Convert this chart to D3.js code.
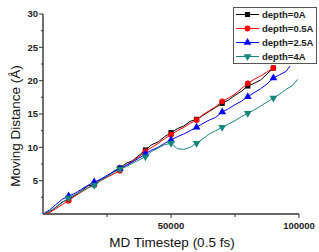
<!DOCTYPE html>
<html>
<head>
<meta charset="utf-8">
<script src="https://cdn.jsdelivr.net/npm/d3@7"></script>
<style>
  html, body { margin: 0; padding: 0; background: #fff; }
  svg { display: block; font-family: Arial, "Liberation Sans", sans-serif; }
</style>
</head>
<body>
<div id="chart"></div>
<script>
// MD timestep samples (every 2500 steps) and moving distance per depth
const steps0 = [0, 2500, 5000, 7500, 10000, 12500, 15000, 17500, 20000, 22500, 25000, 27500, 30000, 32500, 35000, 37500, 40000, 42500, 45000, 47500, 50000, 52500, 55000, 57500, 60000, 62500, 65000, 67500, 70000, 72500, 75000, 77500, 80000, 82500, 85000, 87500, 90000];
const depth0 = [0, 0.3, 1.0, 1.8, 2.2, 2.8, 3.5, 4.2, 4.4, 5.2, 5.6, 6.4, 6.9, 7.6, 8.0, 8.8, 9.6, 10.4, 10.8, 11.6, 12.2, 12.8, 13.2, 13.9, 14.2, 14.8, 15.4, 16.0, 16.6, 17.1, 17.8, 18.4, 19.2, 19.6, 20.1, 21.0, 21.9];
const depth05 = [0, 0.2, 0.8, 1.4, 2.0, 2.7, 3.3, 3.9, 4.4, 5.0, 5.5, 6.0, 6.5, 7.3, 7.9, 8.6, 9.4, 10.0, 10.6, 11.3, 11.9, 12.5, 13.0, 13.6, 14.1, 14.9, 15.5, 16.1, 16.9, 17.4, 18.0, 18.8, 19.6, 20.2, 20.7, 21.3, 21.9];
const steps25 = steps0.concat([92500, 95000, 96500]);
const depth25 = [0, 0.6, 1.4, 2.2, 2.7, 3.1, 3.7, 4.3, 4.8, 5.2, 5.8, 6.3, 6.8, 7.3, 7.8, 8.4, 9.0, 9.6, 10.0, 10.6, 11.1, 11.6, 12.0, 12.5, 13.0, 13.6, 14.1, 14.5, 15.3, 15.8, 16.4, 16.9, 17.6, 18.2, 18.8, 19.5, 20.4, 20.9, 21.4, 22.2];
const steps4 = steps0.concat([92500, 95000, 97500, 99500]);
const depth4 = [0, 0.4, 1.0, 1.7, 2.4, 2.9, 3.4, 3.9, 4.3, 5.0, 5.6, 6.2, 6.7, 7.1, 7.6, 8.1, 8.6, 9.4, 9.9, 10.4, 10.6, 9.8, 9.7, 10.0, 10.6, 11.3, 12.0, 12.5, 13.0, 13.5, 14.0, 14.6, 15.1, 15.6, 16.2, 16.8, 17.4, 18.0, 18.7, 19.3, 20.2];

const seriesNames = ["depth=0A", "depth=0.5A", "depth=2.5A", "depth=4A"];
const seriesSteps = [steps0, steps0, steps25, steps4];
const seriesValues = [depth0, depth05, depth25, depth4];
const seriesColors = ["#000000", "#ff0000", "#0000ff", "#16867d"];
const seriesSymbols = [d3.symbolSquare, d3.symbolCircle, d3.symbolTriangle, "down"];

const xMajor = [50000, 100000];
const xMinor = [25000, 75000];
const yMajor = [5, 10, 15, 20, 25, 30];
const yMinor = [2.5, 7.5, 12.5, 17.5, 22.5, 27.5];

const width = 319, height = 252;
const svg = d3.select("#chart").append("svg")
    .attr("width", width)
    .attr("height", height);

const x = d3.scaleLinear().domain([0, 100000]).range([43, 299]);
const y = d3.scaleLinear().domain([0, 30]).range([214, 14]);

// axes
const axisColor = "#333";
const xAxis = svg.append("g").attr("transform", "translate(0," + y(0) + ")");
xAxis.append("line").attr("x1", x(0)).attr("x2", x(100000))
    .attr("stroke", axisColor).attr("stroke-width", 1.4);
xAxis.selectAll("line.minor").data(xMinor).enter().append("line")
    .attr("class", "minor")
    .attr("x1", d => x(d)).attr("x2", d => x(d))
    .attr("y1", 0).attr("y2", 3)
    .attr("stroke", axisColor);
xAxis.selectAll("line.major").data(xMajor).enter().append("line")
    .attr("class", "major")
    .attr("x1", d => x(d)).attr("x2", d => x(d))
    .attr("y1", 0).attr("y2", 4)
    .attr("stroke", axisColor);
xAxis.selectAll("text").data(xMajor).enter().append("text")
    .attr("x", d => x(d)).attr("y", 15)
    .attr("text-anchor", "middle")
    .attr("font-size", 9.5)
    .attr("font-weight", "bold")
    .attr("fill", "#222")
    .text(d => d);

const yAxis = svg.append("g").attr("transform", "translate(" + x(0) + ",0)");
yAxis.append("line").attr("y1", y(0)).attr("y2", y(30))
    .attr("stroke", axisColor).attr("stroke-width", 1.4);
yAxis.selectAll("line.minor").data(yMinor).enter().append("line")
    .attr("class", "minor")
    .attr("y1", d => y(d)).attr("y2", d => y(d))
    .attr("x1", 0).attr("x2", -2)
    .attr("stroke", axisColor);
yAxis.selectAll("line.major").data(yMajor).enter().append("line")
    .attr("class", "major")
    .attr("y1", d => y(d)).attr("y2", d => y(d))
    .attr("x1", 0).attr("x2", -4)
    .attr("stroke", axisColor);
yAxis.selectAll("text").data(yMajor).enter().append("text")
    .attr("x", -5).attr("y", d => y(d))
    .attr("dy", "0.35em")
    .attr("text-anchor", "end")
    .attr("font-size", 9.5)
    .attr("font-weight", "bold")
    .attr("fill", "#222")
    .text(d => d);

// axis titles
svg.append("text")
    .attr("x", 172).attr("y", 247)
    .attr("text-anchor", "middle")
    .attr("font-size", 13.5)
    .attr("fill", "#111")
    .text("MD Timestep (0.5 fs)");
svg.append("text")
    .attr("transform", "translate(20,126) rotate(-90)")
    .attr("text-anchor", "middle")
    .attr("font-size", 13.5)
    .attr("fill", "#111")
    .text("Moving Distance (\u00C5)");

function symbolPath(sym, size) {
    if (sym === "down") {
        return d3.symbol().type(d3.symbolTriangle).size(size)();
    }
    return d3.symbol().type(sym).size(size)();
}

const line = d3.line().x(d => x(d[0])).y(d => y(d[1]));

seriesNames.forEach((name, i) => {
    const pts = seriesSteps[i].map((s, j) => [s, seriesValues[i][j]]);
    svg.append("path")
        .datum(pts)
        .attr("d", line)
        .attr("fill", "none")
        .attr("stroke", seriesColors[i])
        .attr("stroke-width", 1);
    const marks = pts.filter(p => p[0] > 0 && p[0] % 10000 === 0);
    svg.selectAll("path.m" + i).data(marks).enter().append("path")
        .attr("class", "m" + i)
        .attr("d", symbolPath(seriesSymbols[i], 26))
        .attr("transform", d => "translate(" + x(d[0]) + "," + y(d[1]) + ")" +
            (seriesSymbols[i] === "down" ? " rotate(180)" : ""))
        .attr("fill", seriesColors[i]);
});

// legend
const legend = svg.append("g");
legend.append("rect")
    .attr("x", 233.5).attr("y", 7.5)
    .attr("width", 83).attr("height", 56)
    .attr("fill", "#fff")
    .attr("stroke", "#555");
seriesNames.forEach((name, i) => {
    const ly = 14.5 + i * 14;
    legend.append("line")
        .attr("x1", 236).attr("x2", 259)
        .attr("y1", ly).attr("y2", ly)
        .attr("stroke", seriesColors[i]);
    legend.append("path")
        .attr("d", symbolPath(seriesSymbols[i], 26))
        .attr("transform", "translate(247.5," + ly + ")" +
            (seriesSymbols[i] === "down" ? " rotate(180)" : ""))
        .attr("fill", seriesColors[i]);
    legend.append("text")
        .attr("x", 262).attr("y", ly)
        .attr("dy", "0.35em")
        .attr("font-size", 9.5)
        .attr("font-weight", "bold")
        .attr("fill", "#222")
        .text(name);
});
</script>
</body>
</html>
